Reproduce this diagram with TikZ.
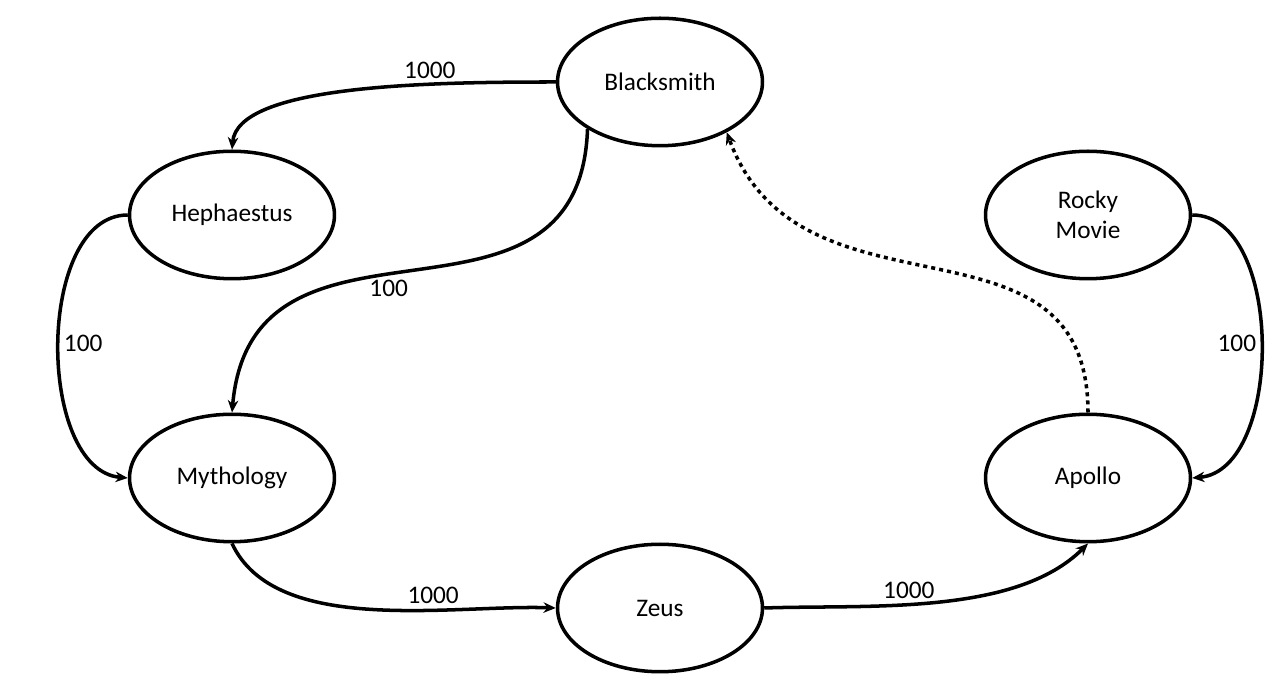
\documentclass[tikz,border=0pt]{standalone}
\usepackage{fontspec}
\setmainfont{Carlito}
\usetikzlibrary{shapes.geometric,arrows.meta}

\begin{document}
\begin{tikzpicture}[
    x=0.02cm, y=0.02cm,
    concept/.style={ellipse, draw=black, line width=2pt,
                    minimum width=4.1cm, minimum height=2.55cm,
                    inner sep=0pt, align=center, font=\fontsize{14.4}{17}\selectfont},
    link/.style={-{Stealth[length=7pt, width=6pt]}, line width=2pt, black},
    hint/.style={-{Stealth[length=7pt, width=6pt]}, line width=2pt, black,
                 dash pattern=on 2.3pt off 2.3pt},
    lbl/.style={font=\fontsize{14.4}{17}\selectfont, inner sep=2pt},
]
\useasboundingbox (0,0) rectangle (1277,675);

% --- Concepts ---
\node[concept] (smith)  at (660, 593) {Blacksmith};
\node[concept] (heph)   at (232, 460) {Hephaestus};
\node[concept] (rocky)  at (1088, 460) {Rocky\\Movie};
\node[concept] (myth)   at (232, 197) {Mythology};
\node[concept] (apollo) at (1088, 197) {Apollo};
\node[concept] (zeus)   at (660, 67) {Zeus};

% --- Weighted links ---
\draw[link] (smith.west) to[out=180, in=85, in looseness=0.5]
    node[pos=0.3, above, lbl] {1000} (heph.north);
\draw[link] (smith.213) to[out=268, in=85, looseness=1.3]
    node[pos=0.55, below, lbl] {100} (myth.north);
\draw[link] (heph.west) to[out=180, in=175, looseness=0.9]
    node[midway, right, lbl] {100} (myth.west);
\draw[link] (rocky.east) to[out=0, in=5, looseness=0.9]
    node[midway, left, lbl] {100} (apollo.east);
\draw[link] (myth.south) to[out=-65, in=178, looseness=0.8]
    node[pos=0.66, above=1pt, lbl] {1000} (zeus.west);
\draw[link] (zeus.east) to[out=2, in=-135, looseness=0.8]
    node[pos=0.42, above, lbl] {1000} (apollo.south);

% --- Dotted hint ---
\draw[hint] (apollo.north) to[out=90, in=-70, looseness=1.2] (smith.-37);

\end{tikzpicture}
\end{document}
